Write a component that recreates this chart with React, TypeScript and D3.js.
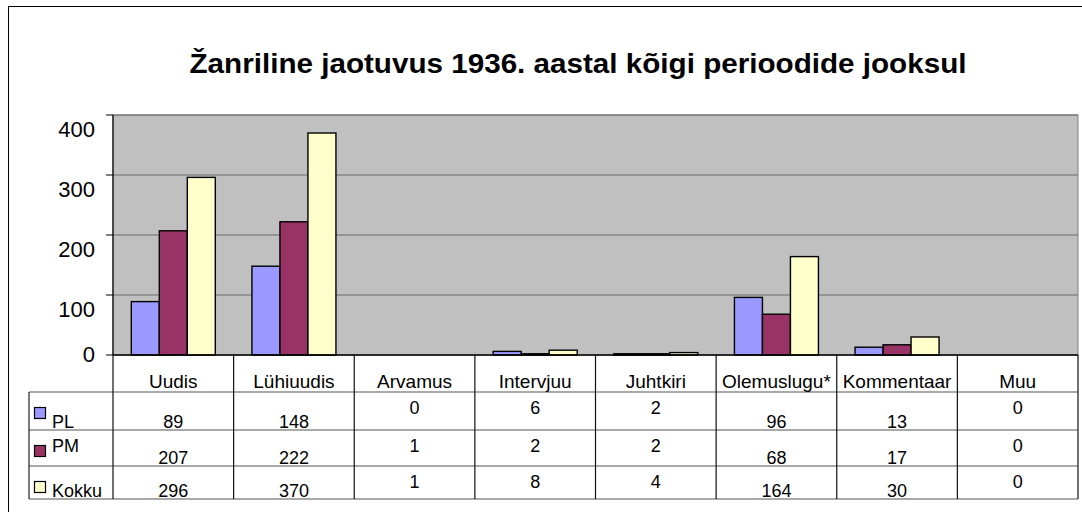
import * as d3 from 'd3';

// chart values
const categories = ['Uudis', 'Lühiuudis', 'Arvamus', 'Intervjuu', 'Juhtkiri', 'Olemuslugu*', 'Kommentaar', 'Muu'];
const seriesNames = ['PL', 'PM', 'Kokku'];
const plValues = [89, 148, 0, 6, 2, 96, 13, 0];
const pmValues = [207, 222, 1, 2, 2, 68, 17, 0];
const kokkuValues = [296, 370, 1, 8, 4, 164, 30, 0];
const yTicks = [0, 100, 200, 300, 400];
const title = 'Žanriline jaotuvus 1936. aastal kõigi perioodide jooksul';

const seriesValues = [plValues, pmValues, kokkuValues];
const seriesColors = ['#9999FF', '#993366', '#FFFFCC'];

const FONT = "'Liberation Sans', Arial, sans-serif";

function App() {
    const width = 1082;
    const height = 512;
    const left = 113;
    const right = 1078;
    const top = 115;
    const bottom = 355;

    const x = d3.scaleBand<string>().domain(categories).range([left, right]).padding(0);
    const xInner = d3.scaleBand<string>()
        .domain(seriesNames)
        .range([0, x.bandwidth()])
        .paddingInner(0)
        .paddingOuter(0.654);
    const y = d3.scaleLinear().domain([0, 400]).range([bottom, top]);

    // data table under the axis
    const rowTops = [392, 430, 466, 499];
    const tableLeft = 29;
    // Excel put some cells' text at the bottom of the row, others higher
    const lowColumns = [0, 1, 5, 6];
    const lowLegend = [true, false, true];

    const boundaries = categories.map((c) => x(c) as number).concat([right]);

    return (
        <svg width={width} height={height} style={{ position: 'absolute', left: 0, top: 0, background: '#fff' }}>
            <rect x={8.5} y={6.5} width={1200} height={600} fill="white" stroke="black" strokeWidth={1} />

            <text
                x={578}
                y={73}
                textAnchor="middle"
                fontFamily={FONT}
                fontWeight="bold"
                fontSize={28}
                textLength={777}
                lengthAdjust="spacingAndGlyphs"
            >
                {title}
            </text>

            {/* plot area */}
            <rect x={left} y={top} width={right - left} height={bottom - top} fill="#C0C0C0" stroke="#808080" strokeWidth={1} />
            {yTicks.filter((t) => t > 0).map((t) => (
                <line key={'g' + t} x1={left} x2={right} y1={y(t)} y2={y(t)} stroke="#6a6a6a" strokeWidth={1} />
            ))}

            {/* bars */}
            {categories.map((c, i) => (
                <g key={c} transform={`translate(${x(c)},0)`}>
                    {seriesNames.map((s, j) => {
                        const v = seriesValues[j][i];
                        const h = bottom - y(v);
                        if (h < 1) return null;
                        return (
                            <rect
                                key={s}
                                x={xInner(s)}
                                y={y(v)}
                                width={xInner.bandwidth()}
                                height={h}
                                fill={seriesColors[j]}
                                stroke="black"
                                strokeWidth={1.4}
                            />
                        );
                    })}
                </g>
            ))}

            {/* y axis */}
            <line x1={left} x2={left} y1={top} y2={bottom} stroke="black" strokeWidth={1.2} />
            {yTicks.map((t) => (
                <g key={'t' + t}>
                    <line x1={left - 7} x2={left} y1={y(t)} y2={y(t)} stroke="black" strokeWidth={1} />
                    <text
                        x={95}
                        y={y(t) + (t > 0 ? 22 : 7)}
                        textAnchor="end"
                        fontFamily={FONT}
                        fontSize={22}
                    >
                        {t}
                    </text>
                </g>
            ))}

            {/* table lines */}
            {rowTops.map((ry, r) => (
                <line key={'h' + r} x1={tableLeft} x2={right} y1={ry} y2={ry} stroke="#555" strokeWidth={1.2} />
            ))}
            <line x1={tableLeft} x2={tableLeft} y1={rowTops[0]} y2={rowTops[3]} stroke="#222" strokeWidth={1.2} />
            {boundaries.map((bx, k) => (
                <line key={'v' + k} x1={bx} x2={bx} y1={bottom} y2={rowTops[3]} stroke="#111" strokeWidth={1.2} />
            ))}
            <line x1={left} x2={right} y1={bottom} y2={bottom} stroke="black" strokeWidth={1.5} />

            {/* header labels */}
            {categories.map((c) => (
                <text
                    key={'c' + c}
                    x={(x(c) as number) + x.bandwidth() / 2}
                    y={388}
                    textAnchor="middle"
                    fontFamily={FONT}
                    fontSize={19}
                >
                    {c}
                </text>
            ))}

            {/* rows */}
            {seriesNames.map((s, j) => {
                const rt = rowTops[j];
                const rb = rowTops[j + 1];
                const high = rt + 22;
                const low = rb - 2;
                return (
                    <g key={'r' + s}>
                        <rect x={34.5} y={rt + 15.5} width={11} height={11} fill={seriesColors[j]} stroke="black" strokeWidth={1.2} />
                        <text x={52} y={lowLegend[j] ? low : high} fontFamily={FONT} fontSize={18}>
                            {s}
                        </text>
                        {categories.map((c, i) => (
                            <text
                                key={c}
                                x={(x(c) as number) + x.bandwidth() / 2}
                                y={lowColumns.includes(i) ? low : high}
                                textAnchor="middle"
                                fontFamily={FONT}
                                fontSize={18}
                            >
                                {seriesValues[j][i]}
                            </text>
                        ))}
                    </g>
                );
            })}
        </svg>
    );
}

export default App;
